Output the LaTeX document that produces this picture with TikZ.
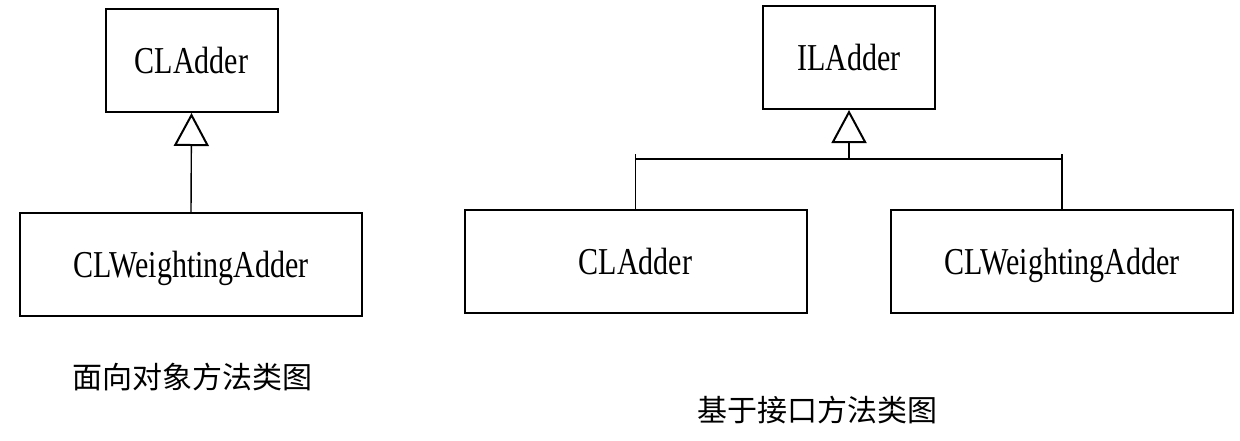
\documentclass[tikz,border=0pt]{standalone}
\usepackage{fontspec}
\setmainfont{Liberation Serif}[FakeStretch=0.79]
\newfontfamily\cjk{Noto Sans CJK SC}
\usetikzlibrary{arrows.meta}
\tikzset{
    klasse/.style={draw, line width=1pt, minimum height=51.5pt, inner sep=0pt,
        text height=12.5pt, text depth=0pt,
        font=\fontsize{19pt}{22pt}\selectfont},
    smal/.style={klasse, minimum width=86pt},
    bred/.style={klasse, minimum width=171pt},
    arv/.style={line width=0.7pt, -{Triangle[open, line width=1pt, length=16.5pt, width=17.5pt]}},
    tekst/.style={font=\cjk\fontsize{15pt}{18pt}\selectfont}
}
\begin{document}
\begin{tikzpicture}[x=0.5pt, y=-0.5pt]
    \useasboundingbox (0,0) rectangle (1240,440);

    %Objektorienteret
        \node[smal] (cladd) at (191.5,60.5) {CLAdder};
        \node[bred] (clweight) at (191,264.5) {CLWeightingAdder};
        \draw[arv] (clweight.north) -- (cladd.south);
        \node[tekst] (oo) at (192,377) {面向对象方法类图};

    %Interface
        \node[smal] (iladd) at (849,57.5) {ILAdder};
        \node[bred] (cladd2) at (635.5,261.5) {CLAdder};
        \node[bred] (clweight2) at (1062,261.5) {CLWeightingAdder};
        \coordinate (bar) at (849,159);
        \draw[line width=0.8pt] (cladd2.north) -- ++(0,-55);
        \draw[line width=0.8pt] (clweight2.north) -- ++(0,-55);
        \draw[line width=1pt] (cladd2.north |- bar) -- (clweight2.north |- bar);
        \draw[arv] (bar) -- (iladd.south);
        \node[tekst] (il) at (817,410) {基于接口方法类图};

        %
\end{tikzpicture}
\end{document}
